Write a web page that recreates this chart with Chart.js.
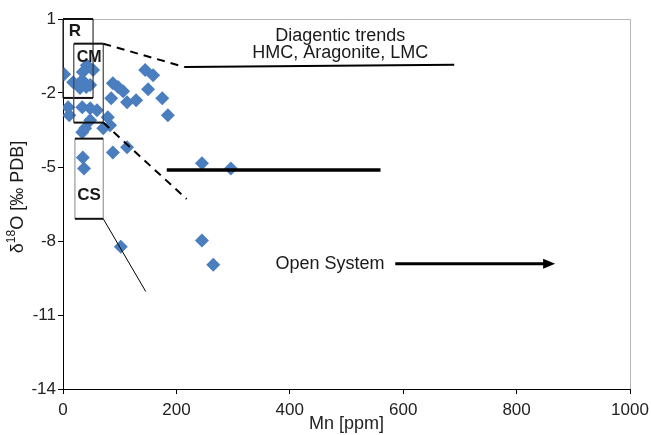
<!DOCTYPE html>
<html lang="en">
<head>
<meta charset="UTF-8">
<title>Mn vs d18O</title>
<script src="https://cdn.jsdelivr.net/npm/chart.js"></script>
<style>
  html, body { margin: 0; padding: 0; background: #fff; }
</style>
</head>
<body>
<canvas id="chart" width="651" height="435"></canvas>
<script>
// Mn [ppm] and d18O [permil PDB]
const mnPpm = [2, 42, 53, 35, 18, 34, 48, 30, 41, 145, 159, 88, 97, 106, 150, 85, 113, 129, 175, 185,
  9, 11, 34, 48, 60, 79, 83, 71, 39, 34, 48, 88, 113, 35, 37, 245, 296, 245, 265, 102];
const d18O = [-1.24, -0.87, -1.07, -1.15, -1.56, -1.48, -1.68, -1.8, -1.76, -1.07, -1.28, -1.6, -1.76, -1.93, -1.85, -2.21, -2.37, -2.29, -2.21, -2.9,
  -2.58, -2.9, -2.58, -2.62, -2.7, -2.98, -3.31, -3.43, -3.43, -3.59, -3.1, -4.41, -4.2, -4.61, -5.06, -4.85, -5.06, -7.98, -8.96, -8.23];

const xTitle = 'Mn [ppm]';
const yTitle = ['δ', '18', 'O [‰ PDB]'];   // drawn with a real superscript

const points = mnPpm.map((v, i) => ({ x: v, y: d18O[i] }));
const FONT = '"Liberation Sans", Arial, sans-serif';

const sketch = {
  id: 'sketch',
  afterDatasetsDraw(chart) {
    const { ctx, chartArea: a } = chart;
    const sx = chart.scales.x, sy = chart.scales.y;
    const X = v => sx.getPixelForValue(v);
    const Y = v => sy.getPixelForValue(v);

    ctx.save();
    // grey frame top/right
    ctx.strokeStyle = '#b5b5b5';
    ctx.lineWidth = 1;
    ctx.beginPath();
    ctx.moveTo(a.left, a.top + 0.5); ctx.lineTo(a.right + 0.5, a.top + 0.5); ctx.lineTo(a.right + 0.5, a.bottom);
    ctx.stroke();

    function line(x1, y1, x2, y2, w, color, dash) {
      ctx.strokeStyle = color || '#000';
      ctx.lineWidth = w;
      ctx.setLineDash(dash || []);
      ctx.beginPath();
      ctx.moveTo(X(x1), Y(y1));
      ctx.lineTo(X(x2), Y(y2));
      ctx.stroke();
      ctx.setLineDash([]);
    }
    function box(x1, x2, y1, y2, side) {
      line(x1, y1, x1, y2, 1.2, side);
      line(x2, y1, x2, y2, 1.2, side);
      line(x1, y1, x2, y1, 2, '#111');
      line(x1, y2, x2, y2, 2, '#111');
    }
    box(0, 53, 1, -2.2, '#333');
    box(19, 71, 0, -3.2, '#444');
    box(21, 71, -3.85, -7.1, '#999');

    line(71, 0, 215, -0.95, 2, '#000', [8, 6]);
    line(215, -0.95, 690, -0.85, 2);
    line(71, -3.2, 218, -6.3, 2, '#000', [8, 6]);
    line(71, -7.1, 146, -10.05, 1);
    line(183, -5.12, 560, -5.12, 3.5);
    line(586, -8.92, 858, -8.92, 3);
    // arrow head
    const hx = X(868), hy = Y(-8.92);
    ctx.fillStyle = '#000';
    ctx.beginPath();
    ctx.moveTo(hx, hy); ctx.lineTo(hx - 12, hy - 5); ctx.lineTo(hx - 12, hy + 5);
    ctx.closePath(); ctx.fill();

    ctx.fillStyle = '#1a1a1a';
    ctx.textAlign = 'center';
    ctx.textBaseline = 'middle';
    ctx.font = 'bold 17px ' + FONT;
    ctx.fillText('R', X(21), Y(0.51));
    ctx.font = 'bold 16px ' + FONT;
    ctx.fillText('CM', X(46), Y(-0.55));
    ctx.font = 'bold 17px ' + FONT;
    ctx.fillText('CS', X(46), Y(-6.15));
    ctx.font = '18px ' + FONT;
    ctx.fillText('Diagentic trends', X(489), Y(0.3));
    ctx.fillText('HMC, Aragonite, LMC', X(489), Y(-0.38));
    ctx.fillText('Open System', X(471), Y(-8.92));

    // y axis title with superscript
    const big = '18px ' + FONT, small = '12px ' + FONT;
    ctx.font = big; const w1 = ctx.measureText(yTitle[0]).width, w3 = ctx.measureText(yTitle[2]).width;
    ctx.font = small; const w2 = ctx.measureText(yTitle[1]).width;
    ctx.translate(18, 197);
    ctx.rotate(-Math.PI / 2);
    ctx.textAlign = 'left';
    let p = -(w1 + w2 + w3) / 2;
    ctx.font = big; ctx.fillText(yTitle[0], p, 0); p += w1;
    ctx.font = small; ctx.fillText(yTitle[1], p, -6); p += w2;
    ctx.font = big; ctx.fillText(yTitle[2], p, 0);
    ctx.restore();
  }
};

new Chart(document.getElementById('chart'), {
  type: 'scatter',
  data: {
    datasets: [{
      data: points,
      pointStyle: 'rectRot',
      radius: 7,
      hoverRadius: 7,
      backgroundColor: '#4a7ebf',
      borderColor: '#4a7ebf',
      borderWidth: 0
    }]
  },
  options: {
    responsive: false,
    animation: false,
    layout: { padding: { top: 19, right: 21, left: 0, bottom: 0 } },
    plugins: { legend: { display: false }, tooltip: { enabled: false } },
    scales: {
      x: {
        type: 'linear',
        min: 0, max: 1000,
        ticks: { stepSize: 200, color: '#222', padding: 6, font: { family: FONT, size: 17 }, callback: v => String(v) },
        grid: { drawOnChartArea: false, drawTicks: true, tickLength: 5, color: '#000' },
        border: { color: '#000', width: 1 },
        title: { display: true, text: xTitle, color: '#222', font: { family: FONT, size: 18 }, padding: { top: 0, bottom: 0 } },
        afterFit(s) { s.height = 46; s.paddingLeft = 0; s.paddingRight = 0; }
      },
      y: {
        type: 'linear',
        min: -14, max: 1,
        ticks: { stepSize: 3, color: '#222', padding: 2, font: { family: FONT, size: 17 } },
        grid: { drawOnChartArea: false, drawTicks: true, tickLength: 5, color: '#000' },
        border: { color: '#000', width: 1 },
        afterFit(s) { s.width = 63; s.paddingTop = 0; s.paddingBottom = 0; }
      }
    }
  },
  plugins: [sketch]
});
</script>
</body>
</html>
